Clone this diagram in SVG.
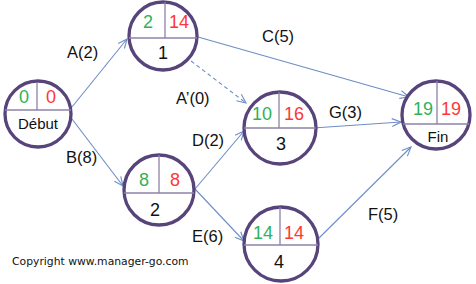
<svg xmlns="http://www.w3.org/2000/svg" width="476" height="284" viewBox="0 0 476 284">
<style>
.ring{fill:#fff;stroke:#56447a;stroke-width:3.3}
.div{stroke:#8e82a9;stroke-width:1.3;fill:none}
.g{fill:#2fb25a;font-family:"Liberation Sans",Arial,sans-serif;font-size:18px;text-anchor:middle}
.r{fill:#ff3636;font-family:"Liberation Sans",Arial,sans-serif;font-size:18px;text-anchor:middle}
.n{fill:#111;font-family:"Liberation Sans",Arial,sans-serif;font-size:18px;text-anchor:middle}
.nl{fill:#111;font-family:"Liberation Sans",Arial,sans-serif;font-size:15px;text-anchor:middle}
.lbl{fill:#111;font-family:"Liberation Sans",Arial,sans-serif;font-size:16.5px}
.e{stroke:#6f8dc6;stroke-width:1.1;fill:none;marker-end:url(#ah)}
.copy{fill:#111;font-family:"DejaVu Sans",Verdana,sans-serif;font-size:10.8px}
</style>
<defs>
<marker id="ah" markerUnits="userSpaceOnUse" markerWidth="12" markerHeight="12" refX="10" refY="5" orient="auto">
<path d="M1,1 L10,5 L1,9" fill="none" stroke="#6f8dc6" stroke-width="1.1"/>
</marker>
</defs>
<g id="connectors">
<path class="e" d="M72,107 L127,39"/>
<path class="e" d="M72,119 L123,186"/>
<path class="e" d="M198,37 L409,97"/>
<path class="e" d="M191,61 L246,103" stroke-dasharray="4,3"/>
<path class="e" d="M195,189 L244,131"/>
<path class="e" d="M195,189 L244,241"/>
<path class="e" d="M313,128 L401,122"/>
<path class="e" d="M317,240 L411,147"/>
<text class="lbl" x="67" y="58">A(2)</text>
<text class="lbl" x="66" y="163">B(8)</text>
<text class="lbl" x="262" y="42">C(5)</text>
<text class="lbl" x="176" y="104">A’(0)</text>
<text class="lbl" x="192" y="146">D(2)</text>
<text class="lbl" x="192" y="242">E(6)</text>
<text class="lbl" x="329" y="118">G(3)</text>
<text class="lbl" x="368" y="220">F(5)</text>
</g>
<g id="debut">
<circle class="ring" cx="38" cy="114" r="33"/>
<path class="div" d="M5,110 H71 M37,82 V110"/>
<text class="g" x="24" y="103">0</text>
<text class="r" x="51" y="103">0</text>
<text class="nl" x="38" y="129">Début</text>
</g>
<g id="n1">
<circle class="ring" cx="163" cy="36" r="34"/>
<path class="div" d="M129,38 H197 M165,2 V38"/>
<text class="g" x="148" y="28">2</text>
<text class="r" x="179" y="28">14</text>
<text class="n" x="163" y="59">1</text>
</g>
<g id="n2">
<circle class="ring" cx="159" cy="190" r="35"/>
<path class="div" d="M124,193 H194 M159,155 V193"/>
<text class="g" x="144" y="186">8</text>
<text class="r" x="175" y="186">8</text>
<text class="n" x="155" y="216">2</text>
</g>
<g id="n3">
<circle class="ring" cx="280" cy="128" r="36"/>
<path class="div" d="M244,128 H316 M279,92 V128"/>
<text class="g" x="262" y="120">10</text>
<text class="r" x="294" y="120">16</text>
<text class="n" x="281" y="150">3</text>
</g>
<g id="n4">
<circle class="ring" cx="281" cy="244" r="37"/>
<path class="div" d="M244,245 H318 M280,207 V245"/>
<text class="g" x="263" y="239">14</text>
<text class="r" x="294" y="239">14</text>
<text class="n" x="279" y="268">4</text>
</g>
<g id="fin">
<circle class="ring" cx="436" cy="115" r="34"/>
<path class="div" d="M403,124 H469 M437,81 V124"/>
<text class="g" x="423" y="115">19</text>
<text class="r" x="451" y="115">19</text>
<text class="nl" x="438" y="142">Fin</text>
</g>
<text class="copy" x="12" y="265">Copyright www.manager-go.com</text>
</svg>
